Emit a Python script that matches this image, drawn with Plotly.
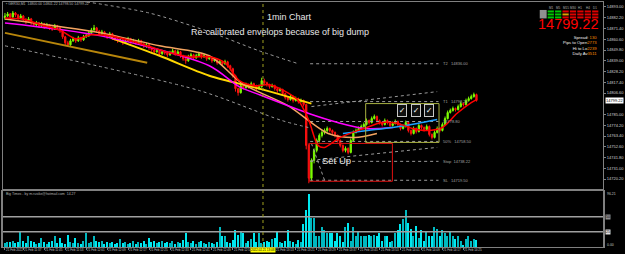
import plotly.graph_objects as go

# ---------------- data ----------------
opens = [14882, 14884,14886,14883,14887,14885,14882,
         14884, 14880,14878,14881,14877,14875,14877,14874,
         14876, 14873,14875,14872,14871,14874,14872,
         14869, 14863,14857,14855,14859,
         14861, 14859,14862,14860,14863,
         14864, 14867,14870,14872,14869,
         14866, 14868,14865,14863,14866,14862,
         14861, 14859,14860,14857,14859,14861,14858,
         14859, 14857,14859,14856,14854,14855,
         14852, 14850,14848,14849,14846,14848,14847,
         14845, 14847,14849,14846,14848,14844,14841,
         14839, 14843,14845,14842,14844,14846,
         14843, 14844,14841,14842,14839,14840,14837,
         14838, 14836,14838,14834,14831,
         14824, 14811,14807,14814,14812,
         14815, 14813,14816,14814,14811,
         14813, 14819,14817,14815,14813,
         14814, 14811,14809,14810,14806,
         14802, 14800,14803,14799,14801,
         14798, 14799,14795,
         14754, 14721,14739,14749,
         14759, 14764,14767,14769,14771,
         14769, 14767,14764,14759,14754,
         14749, 14751,14747,14759,14767,
         14769, 14771,14773,14775,14779,
         14777, 14781,14783,14779,14777,
         14775, 14779,14777,14774,14776,
         14778, 14775,14771,14773,14777,
         14769, 14766,14771,14768,14774,
         14772, 14770,14773,14765,14762,
         14767, 14771,14769,14775,14781,
         14787, 14789,14791,14790,14793,
         14796, 14795,14799,14801,14803,14805]
closes = [14884,14886,14883,14887,14885,14882,14884,
          14880,14878,14881,14877,14875,14877,14874,14876,
          14873,14875,14872,14871,14874,14872,14869,
          14863,14857,14855,14859,14861,
          14859,14862,14860,14863,14864,
          14867,14870,14872,14869,14866,
          14868,14865,14863,14866,14862,14861,
          14859,14860,14857,14859,14861,14858,14859,
          14857,14859,14856,14854,14855,14852,
          14850,14848,14849,14846,14848,14847,14845,
          14847,14849,14846,14848,14844,14841,14839,
          14843,14845,14842,14844,14846,14843,
          14844,14841,14842,14839,14840,14837,14838,
          14836,14838,14834,14831,14824,
          14811,14807,14814,14812,14815,
          14813,14816,14814,14811,14813,
          14819,14817,14815,14813,14814,
          14811,14809,14810,14806,14802,
          14800,14803,14799,14801,14798,
          14799,14795,14754,
          14721,14739,14749,14759,
          14764,14767,14769,14771,14769,
          14767,14764,14759,14754,14749,
          14751,14747,14759,14767,14769,
          14771,14773,14775,14779,14777,
          14781,14783,14779,14777,14775,
          14779,14777,14774,14776,14778,
          14775,14771,14773,14777,14769,
          14766,14771,14768,14774,14772,
          14770,14773,14765,14762,14767,
          14771,14769,14775,14781,14787,
          14789,14791,14790,14793,14796,
          14795,14799,14801,14803,14805,14799.22]
highs = [14887,14888,14887,14889,14888,14886,14886,
         14885,14882,14883,14882,14878,14879,14878,14878,
         14877,14877,14876,14874,14876,14875,14873,
         14870,14864,14859,14861,14863,
         14862,14864,14863,14865,14866,
         14869,14872,14875,14873,14870,
         14870,14869,14866,14868,14867,14864,
         14862,14862,14861,14861,14863,14862,14861,
         14860,14861,14860,14857,14857,14856,
         14853,14851,14851,14850,14850,14849,14848,
         14849,14851,14850,14850,14849,14845,14842,
         14845,14847,14846,14846,14848,14847,
         14846,14845,14844,14843,14842,14841,14840,
         14839,14840,14839,14835,14832,
         14825,14812,14816,14815,14817,
         14816,14818,14817,14815,14815,
         14822,14821,14818,14816,14816,
         14815,14812,14812,14811,14807,
         14803,14805,14804,14803,14802,
         14801,14800,14796,
         14756,14741,14751,14761,
         14766,14769,14771,14773,14772,
         14770,14768,14765,14760,14755,
         14753,14752,14761,14769,14771,
         14773,14775,14777,14781,14780,
         14783,14785,14784,14780,14778,
         14781,14780,14778,14778,14780,
         14779,14776,14775,14779,14778,
         14770,14773,14772,14776,14775,
         14773,14775,14774,14766,14769,
         14773,14772,14777,14783,14789,
         14791,14793,14792,14795,14798,
         14797,14801,14803,14805,14807,14806]
lows = [14880,14883,14881,14882,14883,14880,14881,
        14878,14876,14877,14875,14873,14874,14872,14873,
        14871,14872,14870,14869,14870,14870,14867,
        14861,14854,14853,14854,14858,
        14857,14858,14858,14859,14862,
        14863,14866,14869,14867,14864,
        14865,14863,14861,14862,14860,14859,
        14857,14858,14855,14856,14858,14856,14857,
        14855,14856,14854,14852,14852,14850,
        14848,14846,14847,14844,14845,14845,14843,
        14844,14846,14844,14845,14842,14839,14836,
        14838,14842,14840,14841,14843,14841,
        14842,14839,14840,14837,14838,14835,14836,
        14834,14835,14832,14829,14822,
        14808,14804,14806,14810,14811,
        14811,14812,14812,14809,14810,
        14812,14815,14813,14811,14812,
        14809,14807,14808,14804,14800,
        14798,14799,14797,14798,14796,
        14797,14793,14750,
        14716,14718,14736,14747,
        14757,14762,14765,14767,14767,
        14765,14762,14757,14752,14747,
        14747,14745,14746,14758,14766,
        14768,14770,14772,14774,14775,
        14776,14780,14777,14775,14773,
        14774,14775,14772,14773,14775,
        14773,14769,14770,14772,14767,
        14764,14765,14766,14767,14770,
        14768,14769,14763,14760,14761,
        14766,14767,14768,14774,14780,
        14786,14788,14788,14789,14792,
        14793,14794,14798,14800,14802,14798]
volumes = [7,8,8,10,7,8,25,10,7,18,10,8,5,7,15,8,5,8,10,17,7,
           15,7,5,20,8,7,15,7,5,10,22,7,8,17,10,8,10,5,8,7,
           8,5,7,13,7,8,5,7,10,5,8,7,10,5,15,8,10,7,8,10,
           7,8,7,10,5,8,7,12,22,8,7,10,5,8,10,7,5,8,7,5,
           8,33,18,17,8,7,12,28,20,25,22,7,10,13,23,8,22,7,8,10,
           8,13,15,25,8,7,10,28,10,8,5,12,8,37,60,87,47,47,18,18,
           33,27,22,22,22,10,23,18,8,32,40,10,32,17,25,17,18,17,20,17,
           20,17,22,10,17,17,8,10,22,28,37,45,60,40,30,17,35,15,27,10,
           25,18,17,32,30,18,27,22,17,25,17,13,17,10,3,13,17,10,13,12]

# indicator lines: bar index / price
ma_red_x = [0, 6.4, 14, 21.5, 27, 33, 40, 48, 55.5, 63, 70.5, 78, 84, 89.5, 95, 101, 106.5, 112, 116, 119.5, 122, 128, 137, 144, 150, 155.5, 161, 167, 172.5, 178, 180]
ma_red_p = [14882, 14881, 14875, 14869, 14861, 14865, 14864, 14859, 14853, 14847, 14843, 14843, 14837, 14819, 14814, 14815, 14809, 14799, 14779, 14754, 14752, 14762, 14771, 14777, 14776, 14771, 14769, 14772, 14786, 14797, 14800]
ma_tan_x = [0, 36.6, 59, 78, 90.6, 108, 123.4, 133.6, 142]
ma_tan_p = [14881, 14867, 14854, 14844, 14816, 14794, 14766, 14762, 14766]
ma_mag_x = [0, 36.6, 78, 89.4, 97, 116, 127, 137.4, 148]
ma_mag_p = [14877, 14864, 14834, 14813, 14805, 14786, 14777, 14771, 14772]
ma_blue_x = [129, 138.5, 148, 157.4, 165]
ma_blue_p = [14766, 14769, 14772, 14776, 14780]
ma_yel_x = [40.4, 59, 78, 97, 117]
ma_yel_p = [14862, 14844, 14824, 14811, 14796]
ma_gold_x = [0, 54.3]
ma_gold_p = [14867, 14837]
env_up_x = [29, 55, 77, 97, 112]
env_up_p = [14899, 14887, 14869, 14849, 14836]
env_lo_x = [0, 74.3, 105.7, 115.8]
env_lo_p = [14854, 14809, 14779, 14772]
env2_up_x = [117, 165]
env2_up_p = [14793, 14808]
env2_lo_x = [117, 165]
env2_lo_p = [14739, 14752]
fib_diag_x = [117, 122]
fib_diag_p = [14756, 14719]
fib_levels = [14836, 14798, 14778, 14758, 14738, 14719]
fib_labels = ["T2   14836.00", "T1   14798.20", "14778.80", "50%   14758.50", "Stop  14738.22", "SL   14719.50"]
fib_span = [116.5, 165.5]
green_box_x = [137.7, 165.7]
green_box_p = [14757, 14796]
red_box_x = [116.2, 147.9]
red_box_p = [14718, 14756]
check_x = [151.7, 157, 161.9]
check_p = 14789
cross_bar = 98.5
price_ticks = [14893.00, 14882.20, 14871.40, 14860.60, 14849.80, 14839.00, 14828.20,
               14817.40, 14806.60, 14785.00, 14774.20, 14763.40, 14752.60,
               14741.80, 14731.00, 14720.20]
last_price = 14799.22
time_idx = [0, 7, 15, 23, 31, 39, 47, 55, 63, 71, 79, 87, 103, 111, 119, 127, 135, 143, 151, 159, 167, 175]
time_txt = ["21 Feb 2022", "21 Feb 11:37", "21 Feb 11:45", "21 Feb 11:53", "21 Feb 12:01", "21 Feb 12:09",
            "21 Feb 12:17", "21 Feb 12:25", "21 Feb 12:33", "21 Feb 12:41", "21 Feb 12:49", "21 Feb 12:57",
            "21 Feb 13:13", "21 Feb 13:21", "21 Feb 13:29", "21 Feb 13:37", "21 Feb 13:45",
            "21 Feb 13:53", "21 Feb 14:01", "21 Feb 14:09", "21 Feb 14:17", "21 Feb 14:25"]
cross_txt = "2022.02.21 13:08"
tf_labels = ["M1", "M5", "M15", "M30", "H1", "H4", "D1"]
info_lbl = ["Spread: ", "Pips to Open", "Hi to Lo", "Daily Av"]
info_val = ["130", "2773", "2239", "3511"]

# ---------------- layout helpers ----------------
W, H = 625, 254
ML, MR, MT, MB = 1, 17, 1, 7
PW, PH = W - ML - MR, H - MT - MB


def fx(x):
    return (x - ML) / PW


def fy(y):
    return (H - MB - y) / PH


N = len(closes)
idx = list(range(N))
XR = [-0.755, 228.3]
GRID = "#808080"
FONT = "Liberation Sans, Arial, sans-serif"

fig = go.Figure()
fig.add_trace(go.Candlestick(
    x=idx, open=opens, high=highs, low=lows, close=closes,
    increasing=dict(line=dict(color="#7CFC00", width=1), fillcolor="#7CFC00"),
    decreasing=dict(line=dict(color="#FF1010", width=1), fillcolor="#FF1010"),
    whiskerwidth=0, xaxis="x", yaxis="y", showlegend=False, hoverinfo="skip"))


def line(xs, ys, color, width, dash="solid"):
    fig.add_trace(go.Scatter(x=xs, y=ys, mode="lines", xaxis="x", yaxis="y",
                             line=dict(color=color, width=width, dash=dash, shape="spline", smoothing=0.8),
                             showlegend=False, hoverinfo="skip"))


line(env_up_x, env_up_p, "#9A9A9A", 1, "dot")
line(env_lo_x, env_lo_p, "#9A9A9A", 1, "dot")
line(env2_up_x, env2_up_p, "#9A9A9A", 1, "dot")
line(env2_lo_x, env2_lo_p, "#9A9A9A", 1, "dot")
line(fib_diag_x, fib_diag_p, "#9A9A9A", 1, "dot")
for lv in fib_levels:
    line(fib_span, [lv, lv], "#9A9A9A", 1, "dot")
line(ma_gold_x, ma_gold_p, "#B8860B", 2)
line(ma_yel_x, ma_yel_p, "#FFD700", 2)
line(ma_tan_x, ma_tan_p, "#F4A460", 1.5)
line(ma_mag_x, ma_mag_p, "#FF00FF", 1.5)
line(ma_blue_x, ma_blue_p, "#1EA0FF", 1.5)
line(ma_red_x, ma_red_p, "#FF0000", 1.5)

vol_colors = ["#00B8C0" if c >= o else "#00E8F0" for o, c in zip(opens, closes)]
fig.add_trace(go.Bar(x=idx, y=volumes, marker=dict(color=vol_colors, line=dict(width=0)),
                     width=0.55, xaxis="x2", yaxis="y2", showlegend=False, hoverinfo="skip"))

shapes = [
    dict(type="line", xref="paper", yref="y2", x0=0, x1=1, y0=50, y1=50, line=dict(color="#A0A0A0", width=1.5)),
    dict(type="line", xref="paper", yref="y2", x0=0, x1=1, y0=25, y1=25, line=dict(color="#A0A0A0", width=1.5)),
    dict(type="line", xref="x", yref="paper", x0=cross_bar, x1=cross_bar, y0=0, y1=1,
         line=dict(color="#A0A020", width=1, dash="dot")),
    dict(type="rect", xref="x", yref="y", x0=green_box_x[0], x1=green_box_x[1], y0=green_box_p[0], y1=green_box_p[1],
         line=dict(color="#A8B040", width=1)),
    dict(type="rect", xref="x", yref="y", x0=red_box_x[0], x1=red_box_x[1], y0=red_box_p[0], y1=red_box_p[1],
         line=dict(color="#E01010", width=1)),
]

# multi-timeframe mini panel
cols_x = [552, 559.5, 567, 574.5, 582, 589.5, 597]
stripes = [(9.5, 11.5), (12.5, 14.5), (15.5, 17.5)]
col_colors = [["#00C800"] * 3, ["#00C800"] * 3, ["#E00000", "#E0A000", "#E00000"],
              ["#E00000"] * 3, ["#E00000"] * 3, ["#E00000"] * 3, ["#E00000"] * 3]
for cx, cc in zip(cols_x, col_colors):
    for (s0, s1), c in zip(stripes, cc):
        shapes.append(dict(type="rect", xref="paper", yref="paper", x0=fx(cx), x1=fx(cx + 6.3),
                           y0=fy(s1), y1=fy(s0), line=dict(width=0), fillcolor=c))
shapes.append(dict(type="rect", xref="paper", yref="paper", x0=fx(544), x1=fx(551), y0=fy(17.5), y1=fy(9),
                   line=dict(width=0), fillcolor="#909090"))

ann = []


def ptext(text, x, y, size, color="#E8E8E8", xanchor="center", yanchor="middle", **kw):
    ann.append(dict(text=text, x=fx(x), y=fy(y), xref="paper", yref="paper", showarrow=False,
                    xanchor=xanchor, yanchor=yanchor, borderpad=0,
                    font=dict(color=color, size=size, family=FONT), **kw))


ptext("1min Chart", 291, 16, 9)
ptext("Re-calibrated envelops because of big dump", 281, 31, 9)
ann.append(dict(text="Set Up", x=126.4, y=14739, xref="x", yref="y", showarrow=False,
                xanchor="center", yanchor="middle",
                font=dict(color="#E8E8E8", size=9.5, family=FONT)))
for cx in check_x:
    ann.append(dict(text="✓", x=cx, y=check_p, xref="x", yref="y", showarrow=False, width=8, height=11,
                    xanchor="center", yanchor="middle",
                    bordercolor="#C8C8C8", borderwidth=1, borderpad=0, bgcolor="#101010",
                    font=dict(color="#FFFFFF", size=8, family="DejaVu Sans")))
for lv, lt in zip(fib_levels, fib_labels):
    ann.append(dict(text=lt, x=fib_span[1] + 1, y=lv, xref="x", yref="y", showarrow=False, xanchor="left",
                    yanchor="middle", font=dict(color="#A0A0A0", size=4, family=FONT)))
ptext(f"{last_price:.2f}", 603.5, 23.5, 14.5, color="#FF0000", xanchor="right")
info_text = "<br>".join(f"{lb}<span style='color:#FF8C00'>{vl}</span>" for lb, vl in zip(info_lbl, info_val))
ptext(info_text, 603, 33.5, 4.2, color="#F0F0F0", xanchor="right", yanchor="top", align="right")
for cx, tl in zip(cols_x, tf_labels):
    ptext(tl, cx + 3.1, 7, 3, color="#B0B0B0")
ptext("▪ GER30,M1  14800.00 14801.22 14798.50 14799.22", 3, 3.5, 3.5, color="#B0B0B0", xanchor="left")
ptext("Big Times - by m.rusike@hotmail.com  14.27", 3, 194, 3.5, color="#B0B0B0", xanchor="left")
for ti, tt in zip(time_idx, time_txt):
    ann.append(dict(text=tt, x=ti, y=fy(250.5), xref="x2", yref="paper", showarrow=False, xanchor="left",
                    yanchor="middle", borderpad=0, font=dict(color="#C0C0C0", size=3.0, family=FONT)))
ann.append(dict(text=cross_txt, x=cross_bar, y=fy(250.5), xref="x2", yref="paper", showarrow=False,
                xanchor="center", yanchor="middle",
                bgcolor="#FFFF00", borderpad=0, font=dict(color="#000000", size=3.0, family=FONT)))
ann.append(dict(text=f"{last_price:.2f}", x=1.0, y=last_price, xref="paper", yref="y", showarrow=False,
                xanchor="left", yanchor="middle", xshift=2, bgcolor="#FFFFFF", borderpad=0,
                font=dict(color="#000000", size=4, family=FONT)))
ann.append(dict(text="96.21", x=1.0, y=fy(193.5), xref="paper", yref="paper", showarrow=False, xanchor="left",
                yanchor="middle", xshift=2, font=dict(color="#C0C0C0", size=3.5, family=FONT)))
ann.append(dict(text="50", x=1.0, y=50, xref="paper", yref="y2", showarrow=False, xanchor="left", yanchor="middle",
                xshift=2, bgcolor="#909090", borderpad=0, font=dict(color="#000000", size=3.5, family=FONT)))
ann.append(dict(text="25", x=1.0, y=25, xref="paper", yref="y2", showarrow=False, xanchor="left", yanchor="middle",
                xshift=2, bgcolor="#E0E0E0", borderpad=0, font=dict(color="#000000", size=3.5, family=FONT)))
ann.append(dict(text="0.00", x=1.0, y=3, xref="paper", yref="y2", showarrow=False, xanchor="left", yanchor="middle",
                xshift=2, font=dict(color="#C0C0C0", size=3.5, family=FONT)))

fig.update_layout(
    width=W, height=H, margin=dict(l=ML, r=MR, t=MT, b=MB, pad=0),
    paper_bgcolor="#000000", plot_bgcolor="#000000",
    showlegend=False, bargap=0, shapes=shapes, annotations=ann,
    xaxis=dict(domain=[0, 1], anchor="y", range=XR, showgrid=False, zeroline=False, showticklabels=False,
               showline=True, mirror=True, linecolor=GRID, linewidth=1, rangeslider=dict(visible=False), fixedrange=True),
    xaxis2=dict(domain=[0, 1], anchor="y2", range=XR, matches="x", showgrid=False, zeroline=False,
                showticklabels=False, tickvals=time_idx, ticks="outside", ticklen=2, tickcolor=GRID,
                showline=True, mirror=True, linecolor=GRID, linewidth=1),
    yaxis=dict(domain=[fy(189), 1], anchor="x", side="right", range=[14710, 14898], showgrid=False, zeroline=False,
               tickvals=price_ticks, ticktext=[f"{p:.2f}" for p in price_ticks], ticks="outside", ticklen=2,
               tickcolor=GRID, tickfont=dict(color="#D0D0D0", size=4, family=FONT),
               showline=True, mirror=True, linecolor=GRID, linewidth=1),
    yaxis2=dict(domain=[0, fy(191)], anchor="x2", side="right", range=[0, 92], showgrid=False, zeroline=False,
                showticklabels=False, ticks="", showline=True, mirror=True, linecolor=GRID, linewidth=1.5),
)

fig.write_html("out.html")
